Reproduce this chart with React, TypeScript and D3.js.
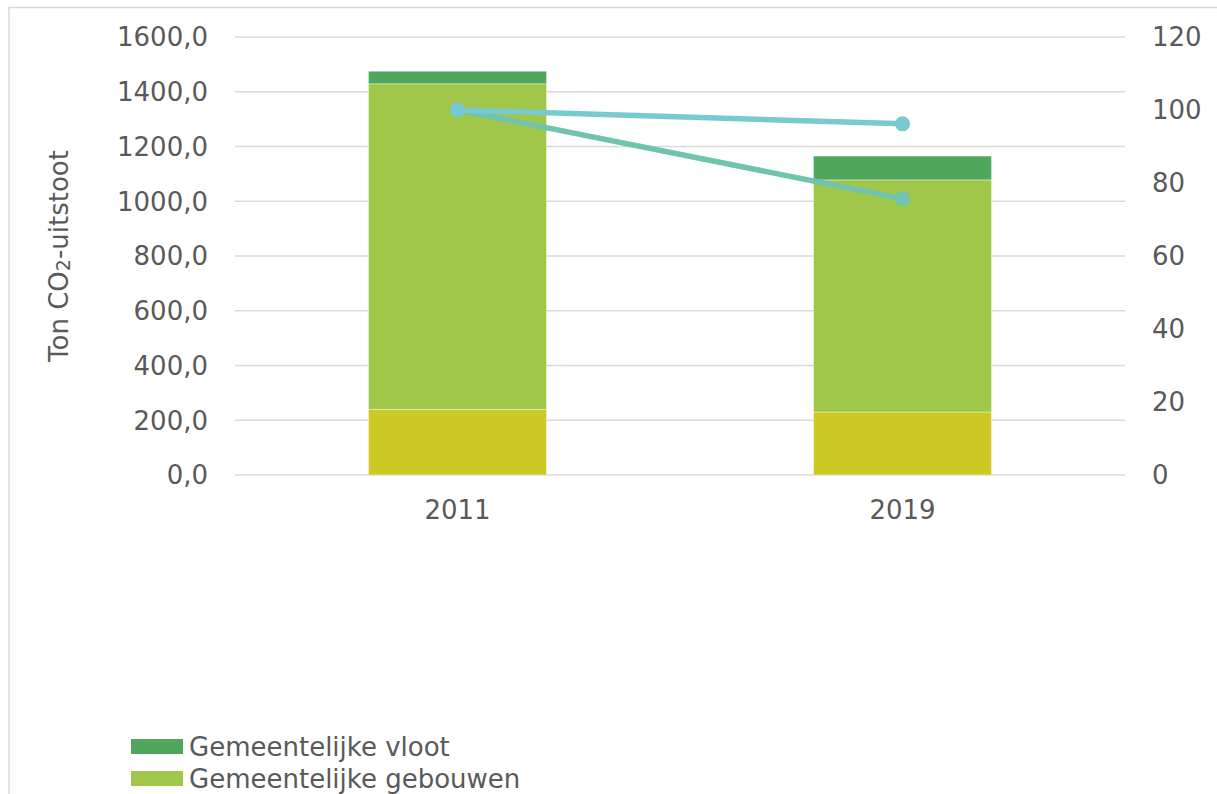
import React from "react";
import * as d3 from "d3";

const years = ["2011", "2019"];
const seriesNames = ["Overig", "Gemeentelijke gebouwen", "Gemeentelijke vloot"];
const seriesColors = ["#CDC924", "#A1C74A", "#4FA75E"];
const overig = [240, 230];
const gebouwen = [1189, 848];
const vloot = [46, 87];
const indexLineA = [100, 96.2];
const indexLineB = [100, 75.7];
const lineColors = ["#70C3AC", "#79C9D1"];
const leftTicks = [0, 200, 400, 600, 800, 1000, 1200, 1400, 1600];
const rightTicks = [0, 20, 40, 60, 80, 100, 120];
const legendItems = ["Gemeentelijke vloot", "Gemeentelijke gebouwen"];
const legendColors = ["#4FA75E", "#A1C74A"];

const W = 1217;
const H = 794;
const FONT = "'DejaVu Sans', Verdana, sans-serif";
const TEXT = "#595959";
const GRID = "#D9D9D9";

export default function App() {
  const x0 = 235, x1 = 1125, yTop = 37, yBot = 475;
  const x = d3.scaleBand<string>().domain(years).range([x0, x1]).padding(0);
  const yL = d3.scaleLinear().domain([0, 1600]).range([yBot, yTop]);
  const yR = d3.scaleLinear().domain([0, 120]).range([yBot, yTop]);
  const barW = x.bandwidth() * 0.4;

  const rows = years.map((yr, i) => ({ year: yr, s0: overig[i], s1: gebouwen[i], s2: vloot[i] }));
  const stack = d3.stack<any>().keys(["s0", "s1", "s2"])(rows);

  const cx = (yr: string) => (x(yr) as number) + x.bandwidth() / 2;
  const lineGen = d3.line<number>().x((_, i) => cx(years[i])).y((v) => yR(v));
  const lines = [indexLineB, indexLineA];

  return (
    <svg width={W} height={H} style={{ position: "absolute", left: 0, top: 0, background: "#fff" }} fontFamily={FONT}>
      <rect x={0} y={0} width={W} height={H} fill="#fff" />
      <line x1={9} x2={W + 5} y1={7.5} y2={7.5} stroke={GRID} strokeWidth={1.5} />
      <line x1={9} x2={9} y1={7} y2={H + 5} stroke={GRID} strokeWidth={1.5} />
      {leftTicks.map((t) => (
        <g key={"g" + t}>
          <line x1={x0} x2={x1} y1={yL(t)} y2={yL(t)} stroke={GRID} strokeWidth={1.5} />
          <text x={208} y={yL(t)} dy="0.36em" textAnchor="end" fontSize={26} fill={TEXT}>
            {d3.format(".1f")(t).replace(".", ",")}
          </text>
        </g>
      ))}
      {rightTicks.map((t) => (
        <text key={"r" + t} x={1152} y={yR(t)} dy="0.36em" textAnchor="start" fontSize={26} fill={TEXT}>
          {t}
        </text>
      ))}
      {stack.map((layer, li) => (
        <g key={"s" + li}>
          {layer.map((d, i) => (
            <rect
              key={i}
              x={cx(years[i]) - barW / 2}
              width={barW}
              y={yL(d[1])}
              height={yL(d[0]) - yL(d[1])}
              fill={seriesColors[li]}
              stroke="#ffffff"
              strokeOpacity={0.5}
              strokeWidth={0.75}
            />
          ))}
        </g>
      ))}
      {lines.map((vals, li) => (
        <g key={"l" + li}>
          <path d={lineGen(vals) || ""} fill="none" stroke={lineColors[li]} strokeWidth={5.5} strokeLinecap="round" />
          {vals.map((v, i) => (
            <circle key={i} cx={cx(years[i])} cy={yR(v)} r={7.5} fill={lineColors[li]} />
          ))}
        </g>
      ))}
      {years.map((yr) => (
        <text key={"x" + yr} x={cx(yr)} y={519} textAnchor="middle" fontSize={26} fill={TEXT}>
          {yr}
        </text>
      ))}
      <text transform={`translate(68,256) rotate(-90)`} textAnchor="middle" fontSize={26} fill={TEXT}>
        Ton CO<tspan fontSize={19} dy={2}>2</tspan><tspan dy={-2}>-uitstoot</tspan>
      </text>
      {legendItems.map((name, i) => (
        <g key={"lg" + i}>
          <rect x={131} y={739 + i * 32} width={52} height={15} fill={legendColors[i]} />
          <text x={189} y={756 + i * 32} fontSize={26} fill={TEXT}>
            {name}
          </text>
        </g>
      ))}
    </svg>
  );
}
